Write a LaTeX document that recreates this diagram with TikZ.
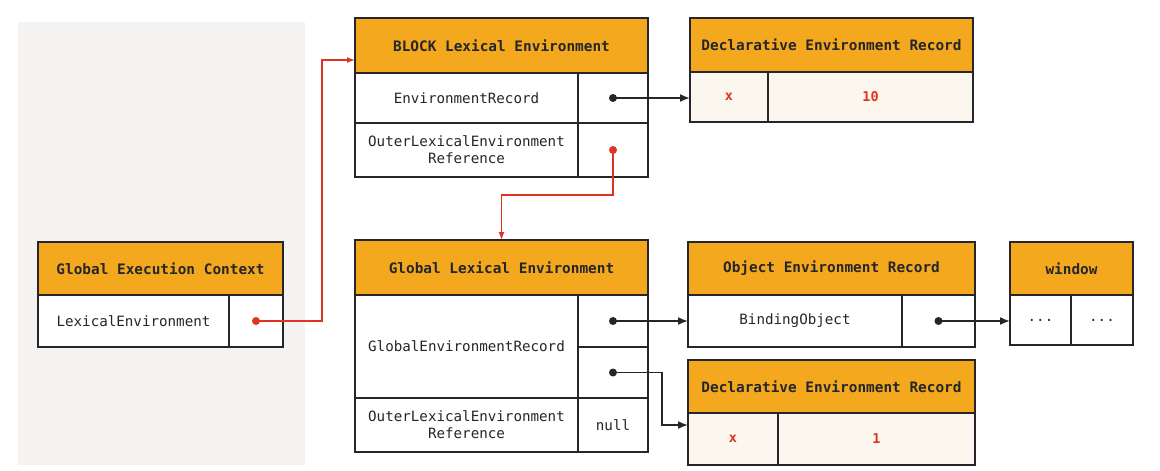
\documentclass[tikz,border=0pt]{standalone}
\usepackage{fontspec}
\setmonofont{DejaVu Sans Mono}
\usetikzlibrary{arrows.meta,positioning}

\definecolor{headorange}{RGB}{243,168,30}
\definecolor{edge}{RGB}{38,38,42}
\definecolor{cream}{RGB}{251,247,238}
\definecolor{redval}{RGB}{222,52,34}
\definecolor{panel}{RGB}{244,243,241}

\begin{document}
\begin{tikzpicture}[
      x=1pt, y=-1pt,
      node distance = 0pt,
      font=\ttfamily\fontsize{14.2}{17}\selectfont
    ]

    \tikzstyle{head} = [
        rectangle,
        draw=edge,
        fill=headorange,
        line width=1.4pt,
        anchor=north west,
        minimum height=53pt,
        inner sep=0pt, outer sep=0pt,
        text=edge,
        font=\ttfamily\bfseries\fontsize{14.4}{17}\selectfont
    ]

    \tikzstyle{cell} = [
        rectangle,
        draw=edge,
        fill=white,
        line width=1.4pt,
        minimum height=52pt,
        align=center,
        inner sep=0pt, outer sep=0pt,
        text=edge
    ]

    \tikzstyle{valcell} = [
        cell,
        fill=cream,
        text=redval,
        font=\ttfamily\bfseries\fontsize{13.5}{16}\selectfont
    ]

    \tikzstyle{line} = [
        draw=edge,
        line width=1.6pt,
        -{Latex[length=10pt,width=8pt]}
    ]

    \tikzstyle{redline} = [
        line,
        draw=redval,
        line width=1.4pt,
        -{Latex[length=8pt,width=6pt]}
    ]

    \useasboundingbox (0,0) rectangle (1160,471);
    \fill[panel] (18,22) rectangle (305,465);

    % execution context
    \node [head, minimum width=245pt] at (38,242)                     (gech) {Global Execution Context};
    \node [cell, minimum width=191pt, below right=0pt and 0pt of gech.south west] (geck) {LexicalEnvironment};
    \node [cell, minimum width=54pt, right=of geck]                   (gecv) {};

    % block scope
    \node [head, minimum width=293pt, minimum height=55pt] at (355,18) (blkh) {BLOCK Lexical Environment};
    \node [cell, minimum width=223pt, minimum height=50pt, below right=0pt and 0pt of blkh.south west] (blkk1) {EnvironmentRecord};
    \node [cell, minimum width=70pt, minimum height=50pt, right=of blkk1] (blkv1) {};
    \node [cell, minimum width=223pt, minimum height=54pt, below=of blkk1] (blkk2) {OuterLexicalEnvironment\\Reference};
    \node [cell, minimum width=70pt, minimum height=54pt, right=of blkk2] (blkv2) {};

    \node [head, minimum width=283pt, minimum height=54pt] at (690,18) (dech) {Declarative Environment Record};
    \node [valcell, minimum width=78pt, minimum height=50pt, below right=0pt and 0pt of dech.south west] (deck) {x};
    \node [valcell, minimum width=205pt, minimum height=50pt, right=of deck] (decv) {10};

    % global scope
    \node [head, minimum width=293pt, minimum height=55pt] at (355,240) (gleh) {Global Lexical Environment};
    \node [cell, minimum width=223pt, minimum height=103pt, below right=0pt and 0pt of gleh.south west] (glek) {GlobalEnvironmentRecord};
    \node [cell, minimum width=70pt, below right=0pt and 0pt of glek.north east] (glev1) {};
    \node [cell, minimum width=70pt, minimum height=51pt, below=of glev1] (glev2) {};
    \node [cell, minimum width=223pt, minimum height=54pt, below=of glek] (gleok) {OuterLexicalEnvironment\\Reference};
    \node [cell, minimum width=70pt, minimum height=54pt, right=of gleok] (gleov) {null};

    \node [head, minimum width=287pt] at (688,242)                    (oerh) {Object Environment Record};
    \node [cell, minimum width=214pt, below right=0pt and 0pt of oerh.south west] (oerk) {BindingObject};
    \node [cell, minimum width=73pt, right=of oerk]                    (oerv) {};

    \node [head, minimum width=123pt] at (1010,242)                   (winh) {window};
    \node [cell, minimum width=61pt, minimum height=50pt, below right=0pt and 0pt of winh.south west] (wink) {...};
    \node [cell, minimum width=62pt, minimum height=50pt, right=of wink] (winv) {...};

    \node [head, minimum width=287pt] at (688,360)                    (d2h) {Declarative Environment Record};
    \node [valcell, minimum width=90pt, below right=0pt and 0pt of d2h.south west] (d2k) {x};
    \node [valcell, minimum width=197pt, right=of d2k]                (d2v) {1};

    \coordinate (blkin) at (322,60);

    \fill[redval] (gecv.center) circle (4pt);
    \path [redline] (gecv.center) -| (blkin) -- (blkh.west |- blkin);

    \fill[edge] (blkv1.center) circle (4pt);
    \path [line] (blkv1.center) -- (blkv1.center -| deck.west);

    \fill[redval] (blkv2.center) circle (4pt);
    \path [redline] (blkv2.center) |- ([yshift=45pt]gleh.north) -- (gleh.north);

    \fill[edge] (glev1.center) circle (4pt);
    \path [line] (glev1.center) -- (glev1.center -| oerk.west);

    \fill[edge] (glev2.center) circle (4pt);
    \path [line] (glev2.center) -- ++(49,0) |- ([yshift=14pt]d2k.west);

    \fill[edge] (oerv.center) circle (4pt);
    \path [line] (oerv.center) -- (oerv.center -| wink.west);

    \end{tikzpicture}
\end{document}
